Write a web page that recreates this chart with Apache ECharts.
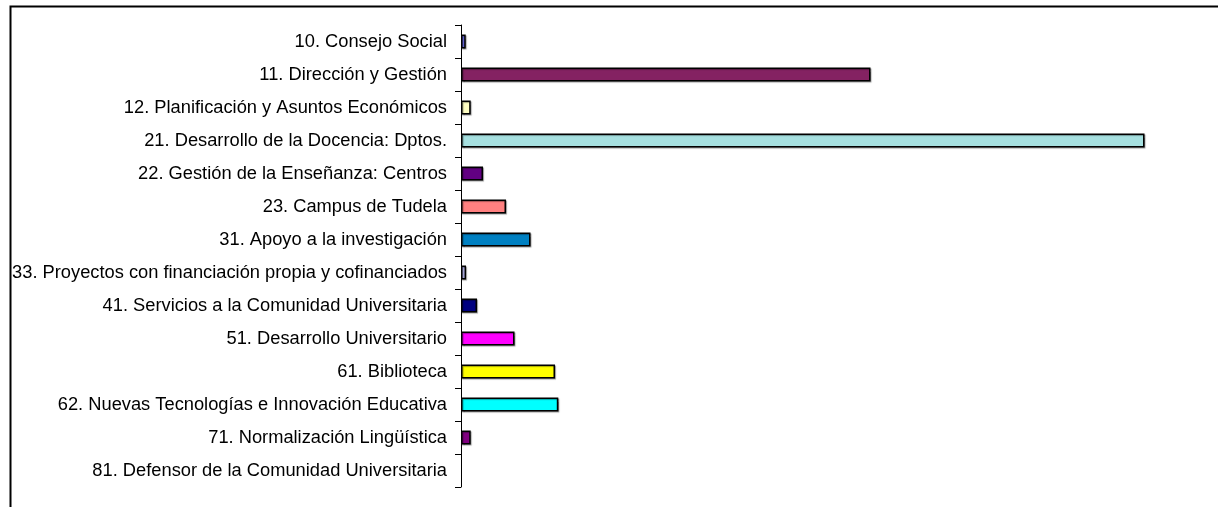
<!DOCTYPE html>
<html>
<head>
<meta charset="utf-8">
<script src="https://cdn.jsdelivr.net/npm/echarts@6/dist/echarts.min.js"></script>
<style>
html,body{margin:0;padding:0;background:#fff;}
#c{width:1218px;height:507px;}
</style>
</head>
<body>
<div id="c"></div>
<script>
var categories = [
  "10. Consejo Social",
  "11. Dirección y Gestión",
  "12. Planificación y Asuntos Económicos",
  "21. Desarrollo de la Docencia: Dptos.",
  "22. Gestión de la Enseñanza: Centros",
  "23. Campus de Tudela",
  "31. Apoyo a la investigación",
  "33. Proyectos con financiación propia y cofinanciados",
  "41. Servicios a la Comunidad Universitaria",
  "51. Desarrollo Universitario",
  "61. Biblioteca",
  "62. Nuevas Tecnologías e Innovación Educativa",
  "71. Normalización Lingüística",
  "81. Defensor de la Comunidad Universitaria"
];
var values = [4.7, 409.5, 9.7, 683.5, 22, 45, 69.5, 5, 16, 53.5, 94, 97.3, 9.7, 0];
var colors = ["#7474f4", "#842262", "#ffffc4", "#a6e0e0", "#620082", "#ff8080", "#0080c2", "#c4c4ff", "#000080", "#ff00ff", "#ffff00", "#00ffff", "#800080", "#800000"];

var chart = echarts.init(document.getElementById('c'));
chart.setOption({
  animation: false,
  backgroundColor: '#fff',
  graphic: [{
    type: 'rect',
    left: 8, top: 4,
    shape: {width: 1300, height: 600},
    style: {fill: 'none', stroke: '#000', lineWidth: 2}
  }],
  grid: {left: 461, right: 67, top: 25, bottom: 20, containLabel: false},
  xAxis: {type: 'value', min: 0, max: 690, show: false},
  yAxis: {
    type: 'category',
    data: categories,
    inverse: true,
    axisLine: {show: true, lineStyle: {color: '#000', width: 1}},
    axisTick: {show: true, length: 6, inside: false, lineStyle: {color: '#000'}},
    axisLabel: {color: '#000', fontFamily: 'Liberation Sans, Arial, sans-serif', fontSize: 18.3, margin: 14},
    splitLine: {show: false}
  },
  series: [{
    type: 'bar',
    data: values.map(function(v, i){
      return {value: v, itemStyle: v > 0 ? {color: colors[i]} : {color: 'rgba(0,0,0,0)', borderWidth: 0, shadowColor: 'rgba(0,0,0,0)'}};
    }),
    barWidth: 14,
    itemStyle: {borderColor: '#000', borderWidth: 1.5, shadowColor: 'rgba(0,0,0,0.35)', shadowOffsetX: 1, shadowOffsetY: 1, shadowBlur: 1}
  }]
});
</script>
</body>
</html>
